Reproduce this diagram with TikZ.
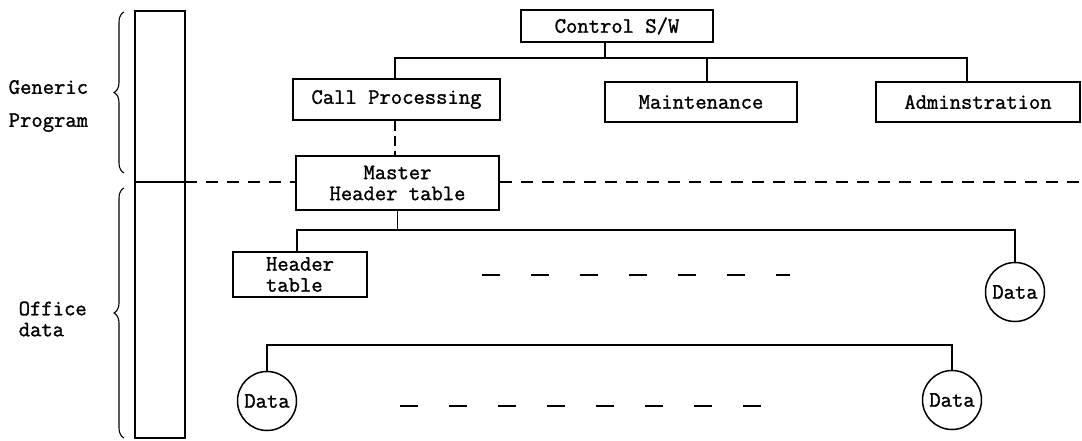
\documentclass[tikz,border=0pt]{standalone}
\usepackage{fontspec}
\newfontfamily\typewriter[FakeBold=1.3]{Latin Modern Mono}
\usetikzlibrary{decorations.pathreplacing}
\begin{document}
\begin{tikzpicture}[x=1pt,y=-1pt,
  line width=1.5pt,
  every node/.style={font=\typewriter\fontsize{22}{21}\selectfont, inner sep=0pt},
  box/.style={draw, rectangle},
  datum/.style={draw, circle, minimum size=59pt},
  sep/.style={dash pattern=on 12pt off 9pt},
  link/.style={dash pattern=on 10pt off 5pt},
  gap/.style={dash pattern=on 18pt off 31pt},
  curly/.style={line width=1.1pt, decorate, decoration={brace, amplitude=10pt}}]
\useasboundingbox (0,0) rectangle (1082,441);

% memory column split into program and data parts
\node[box, minimum width=50pt, minimum height=427pt] (col) at (160,224.5) {};
\coordinate (colsplit) at (185,182);
\draw (col.west |- colsplit) -- (colsplit);

% braces and their labels
\draw[curly] (124,173) -- (124,12);
\draw[curly] (124,438) -- (124,188);
\node[align=left, anchor=west] (gen) at (8,106) {Generic\\[12pt]Program};
\node[align=left, anchor=west] (off) at (18,319) {Office\\data};

% software hierarchy
\node[box, minimum width=192pt, minimum height=32pt] (ctl) at (617,26) {Control S/W};
\node[box, minimum width=207pt, minimum height=41pt] (cp) at (396.5,99.5) {Call Processing};
\node[box, minimum width=192pt, minimum height=40pt] (mnt) at (701,102) {Maintenance};
\node[box, minimum width=204pt, minimum height=40pt] (adm) at (978,102) {Adminstration};

\coordinate (busc) at (605,58);
\coordinate (busl) at (395,58);
\coordinate (busm) at (707,58);
\coordinate (busr) at (967,58);
\draw (ctl.south -| busc) -- (busc);
\draw (cp.north -| busl) -- (busl) -- (busr) -- (adm.north -| busr);
\draw (busm) -- (mnt.north -| busm);

% master header table on the boundary
\node[box, minimum width=203pt, minimum height=54pt, align=center] (mst) at (397.5,183) {Master\\Header table};
\draw[link] (cp.south -| busl) -- (mst.north -| busl);
\draw[sep] (colsplit) -- (mst.west |- colsplit);
\coordinate (sepend) at (1082,182);
\draw[sep] (mst.east |- colsplit) -- (sepend);

% first level of office data
\node[box, minimum width=134pt, minimum height=45pt, align=left] (hdr) at (300,274.5) {Header\\table};
\node[datum] (d1) at (1015,292) {Data};
\coordinate (busa) at (397.5,230);
\coordinate (busal) at (297,230);
\coordinate (busar) at (1015,230);
\draw (mst.south) -- (busa);
\draw (hdr.north -| busal) -- (busal) -- (busar) -- (d1.north);
\coordinate (gapa1) at (482,275);
\coordinate (gapa2) at (790,275);
\draw[gap] (gapa1) -- (gapa2);

% second level of office data
\node[datum] (d2) at (267,401) {Data};
\node[datum] (d3) at (952,400) {Data};
\coordinate (busbl) at (267,345);
\coordinate (busbr) at (952,345);
\draw (d2.north) -- (busbl) -- (busbr) -- (d3.north);
\coordinate (gapb1) at (400,406);
\coordinate (gapb2) at (770,406);
\draw[gap] (gapb1) -- (gapb2);
\end{tikzpicture}
\end{document}
